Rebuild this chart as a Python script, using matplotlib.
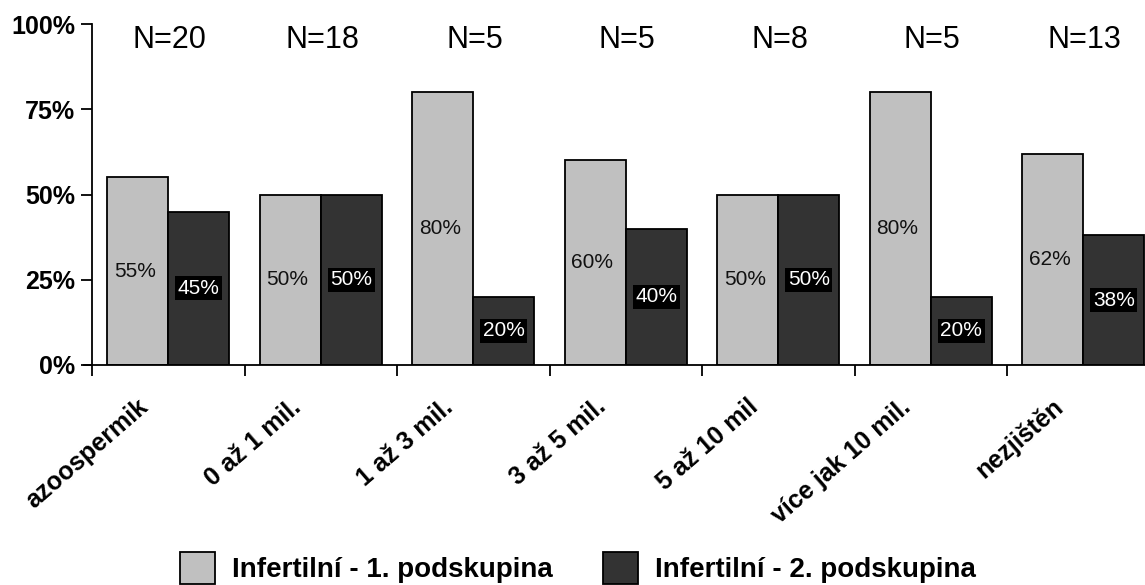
import matplotlib
matplotlib.use("Agg")
import matplotlib.pyplot as plt
import matplotlib.transforms as mtransforms
import numpy as np

plt.rcParams["font.family"] = ["Liberation Sans", "DejaVu Sans"]

categories = ["azoospermik", "0 až 1 mil.", "1 až 3 mil.", "3 až 5 mil.",
              "5 až 10 mil", "více jak 10 mil.", "nezjištěn"]
group_sizes = [20, 18, 5, 5, 8, 5, 13]
series_names = ["Infertilní - 1. podskupina", "Infertilní - 2. podskupina"]
share_group1 = [55, 50, 80, 60, 50, 80, 62]
share_group2 = [45, 50, 20, 40, 50, 20, 38]
ytick_labels = ["0%", "25%", "50%", "75%", "100%"]

W, H, DPI = 1145, 585, 100
fig = plt.figure(figsize=(W / DPI, H / DPI), dpi=DPI)

# plot area in pixels: left 92, bottom 365, top 24, one group = 152.5 px
left_px, top_px, bottom_px, group_px = 92, 24, 365, 152.5
n = len(categories)
ax = fig.add_axes([left_px / W, 1 - bottom_px / H,
                   n * group_px / W, (bottom_px - top_px) / H])

light, dark = "#c0c0c0", "#333333"
x = np.arange(n)
bw = 0.4
b1 = ax.bar(x + 0.3, share_group1, width=bw, color=light, edgecolor="black",
            linewidth=1.3, label=series_names[0], zorder=2)
b2 = ax.bar(x + 0.7, share_group2, width=bw, color=dark, edgecolor="black",
            linewidth=1.3, label=series_names[1], zorder=2)

ax.set_xlim(0, n)
ax.set_ylim(0, 100)

# value labels inside bars
for xi, v in zip(x + 0.3, share_group1):
    ax.text(xi - 0.02, v / 2, f"{v}%", ha="center", va="center",
            fontsize=15, color="#111111", zorder=3)
for xi, v in zip(x + 0.7, share_group2):
    ax.text(xi, v / 2, f"{v}%", ha="center", va="center", fontsize=15,
            color="white", zorder=3,
            bbox=dict(boxstyle="square,pad=0.12", facecolor="black",
                      edgecolor="none"))

# group sizes above
for xi, nn in zip(x + 0.5, group_sizes):
    ax.text(xi + 0.01, 93, f"N={nn}", ha="center", va="baseline",
            fontsize=22)

# axes styling
for s in ["top", "right"]:
    ax.spines[s].set_visible(False)
ax.spines["left"].set_linewidth(1.3)
ax.spines["bottom"].set_linewidth(1.3)
ax.spines["bottom"].set_bounds(-8 / group_px, n)

ax.set_yticks([0, 25, 50, 75, 100])
ax.set_yticklabels(ytick_labels, fontsize=18, fontweight="bold")
ax.tick_params(axis="y", direction="out", length=8, width=1.3, pad=4)

ax.set_xticks(np.arange(n + 1))
ax.set_xticklabels([])
ax.tick_params(axis="x", direction="out", length=8, width=1.3)

# slanted category labels, right end of baseline just left of group centre
offset = mtransforms.ScaledTranslation(-19 / DPI, -44 / DPI, fig.dpi_scale_trans)
trans = ax.get_xaxis_transform() + offset
for xi, lab in zip(x + 0.5, categories):
    ax.text(xi, 0, lab, transform=trans, rotation=41, ha="right",
            va="baseline", rotation_mode="anchor", fontsize=18,
            fontweight="bold")

# legend along the bottom
fs = 20
em = fs * DPI / 72
fig.legend(handles=[b1, b2], labels=series_names, loc="upper left",
           bbox_to_anchor=(180 / W, 1 - 552 / H), ncol=2, frameon=False,
           prop=dict(size=fs, weight="bold"), handlelength=35 / em,
           handleheight=38 / em, handletextpad=17 / em,
           columnspacing=50 / em, borderpad=0, borderaxespad=0)

fig.savefig("out.png", dpi=DPI)
